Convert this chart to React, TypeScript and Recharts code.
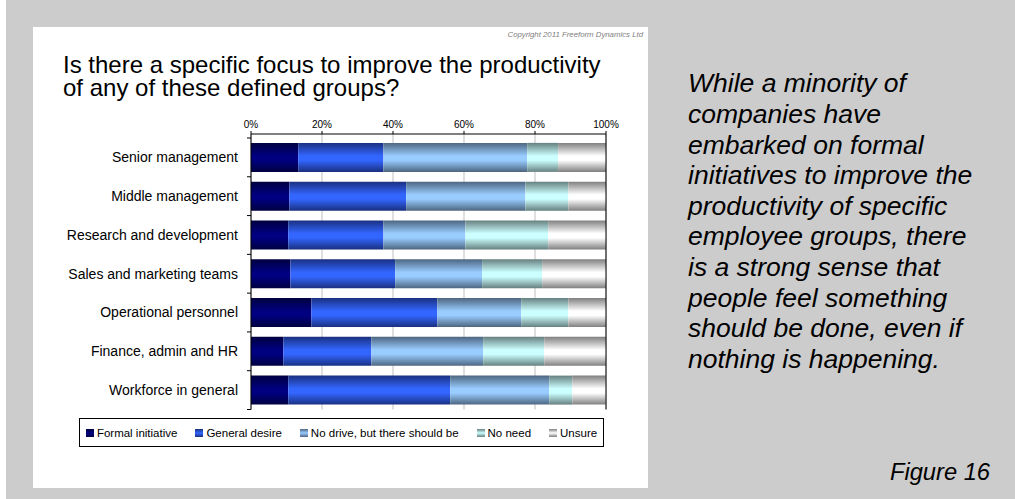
import React from 'react';
import { BarChart, Bar, XAxis, YAxis, CartesianGrid, ReferenceLine, Legend } from 'recharts';

const groups = [
    'Senior management',
    'Middle management',
    'Research and development',
    'Sales and marketing teams',
    'Operational personnel',
    'Finance, admin and HR',
    'Workforce in general',
];

const formalInitiative = [13.3, 10.8, 10.5, 11.1, 17.0, 9.1, 10.5];
const generalDesire = [24.0, 32.9, 26.8, 29.5, 35.5, 24.8, 45.6];
const noDrive = [40.5, 33.6, 23.1, 24.5, 23.6, 31.5, 27.9];
const noNeed = [8.7, 12.1, 23.3, 16.9, 13.3, 17.2, 6.5];
const unsure = [13.5, 10.6, 16.3, 18.0, 10.6, 17.4, 9.4];

const xTicks = [0, 20, 40, 60, 80, 100];

const titleLines = [
    'Is there a specific focus to improve the productivity',
    'of any of these defined groups?',
];

const paragraph = [
    'While a minority of',
    'companies have',
    'embarked on formal',
    'initiatives to improve the',
    'productivity of specific',
    'employee groups, there',
    'is a strong sense that',
    'people feel something',
    'should be done, even if',
    'nothing is happening.',
];

// edge colour / centre colour for the Excel-style banded fills
const SERIES = [
    { key: 'formal', name: 'Formal initiative', edge: '#000040', mid: '#000080' },
    { key: 'general', name: 'General desire', edge: '#1a3080', mid: '#3366ff' },
    { key: 'noDrive', name: 'No drive, but there should be', edge: '#4d6680', mid: '#99ccff' },
    { key: 'noNeed', name: 'No need', edge: '#668080', mid: '#ccffff' },
    { key: 'unsure', name: 'Unsure', edge: '#808080', mid: '#ffffff' },
];

const data = groups.map((g, i) => ({
    group: g,
    formal: formalInitiative[i],
    general: generalDesire[i],
    noDrive: noDrive[i],
    noNeed: noNeed[i],
    unsure: unsure[i],
}));

const FONT = "'Liberation Sans', Arial, sans-serif";

function YTick(props: any) {
    const { x, y, payload, index } = props;
    const half = payload && payload.offset ? payload.offset : 19.4;
    const axisX = x + 13;
    return (
        <g>
            <line x1={axisX - 4} x2={axisX} y1={y - half} y2={y - half} stroke="#000" />
            {index === groups.length - 1 && (
                <line x1={axisX - 4} x2={axisX} y1={y + half} y2={y + half} stroke="#000" />
            )}
            <text x={x} y={y} dy="0.35em" textAnchor="end" fontSize={14} fill="#000">
                {payload.value}
            </text>
        </g>
    );
}

function LegendBox() {
    return (
        <div
            style={{
                boxSizing: 'border-box',
                height: 29,
                width: 525,
                border: '1px solid #000',
                display: 'flex',
                alignItems: 'center',
                justifyContent: 'center',
                fontSize: 11.5,
                color: '#000',
                background: '#fff',
            }}
        >
            {SERIES.map((s, i) => (
                <div key={s.key} style={{ display: 'flex', alignItems: 'center', marginLeft: i === 0 ? 0 : 18 }}>
                    <span
                        style={{
                            display: 'inline-block',
                            width: 8,
                            height: 8,
                            marginRight: 3,
                            background: `linear-gradient(${s.edge}, ${s.mid}, ${s.edge})`,
                        }}
                    />
                    <span>{s.name}</span>
                </div>
            ))}
        </div>
    );
}

export default function App() {
    return (
        <div style={{ position: 'absolute', left: 0, top: 0, width: 1015, height: 499, background: '#fff', fontFamily: FONT }}>
            <div style={{ position: 'absolute', left: 6, top: 0, width: 1009, height: 499, background: '#cccccc' }} />
            <div style={{ position: 'absolute', left: 33, top: 27, width: 615, height: 461, background: '#fff' }} />

            <div
                style={{
                    position: 'absolute',
                    right: 1015 - 643,
                    top: 30,
                    fontSize: 7.8,
                    fontStyle: 'italic',
                    color: '#808080',
                    whiteSpace: 'nowrap',
                    lineHeight: '10px',
                }}
            >
                Copyright 2011 Freeform Dynamics Ltd
            </div>

            {titleLines.map((line, i) => (
                <div
                    key={line}
                    style={{
                        position: 'absolute',
                        left: 63,
                        top: 54.2 + i * 22.5,
                        fontSize: 24,
                        lineHeight: '22.5px',
                        color: '#000',
                        whiteSpace: 'nowrap',
                    }}
                >
                    {line}
                </div>
            ))}

            <div style={{ position: 'absolute', left: 33, top: 27 }}>
                <BarChart
                    width={615}
                    height={461}
                    data={data}
                    layout="vertical"
                    barCategoryGap="12.6%"
                    margin={{ top: 87, right: 42, bottom: 49.5, left: 0 }}
                >
                    <defs>
                        {SERIES.map((s) => (
                            <linearGradient key={s.key} id={`g-${s.key}`} x1="0" y1="0" x2="0" y2="1">
                                <stop offset="0%" stopColor={s.edge} />
                                <stop offset="45%" stopColor={s.mid} />
                                <stop offset="60%" stopColor={s.mid} />
                                <stop offset="100%" stopColor={s.edge} />
                            </linearGradient>
                        ))}
                    </defs>
                    <CartesianGrid horizontal={false} stroke="#bfbfbf" />
                    <XAxis
                        type="number"
                        orientation="top"
                        domain={[0, 100]}
                        ticks={xTicks}
                        tickFormatter={(v) => `${v}%`}
                        height={20}
                        tick={{ fontSize: 10, fill: '#000' }}
                        tickSize={3}
                        tickMargin={3}
                        axisLine={{ stroke: '#000' }}
                        tickLine={{ stroke: '#000' }}
                        interval={0}
                    />
                    <XAxis
                        xAxisId="b"
                        type="number"
                        orientation="bottom"
                        domain={[0, 100]}
                        height={0}
                        tick={false}
                        tickLine={false}
                        axisLine={{ stroke: '#777' }}
                    />
                    <YAxis
                        type="category"
                        dataKey="group"
                        width={218}
                        padding={{ top: 4, bottom: 0 }}
                        axisLine={{ stroke: '#000' }}
                        tickLine={false}
                        tickSize={0}
                        tickMargin={13}
                        tick={<YTick />}
                        interval={0}
                    />
                    <ReferenceLine x={100} stroke="#000" />
                    {SERIES.map((s) => (
                        <Bar key={s.key} dataKey={s.key} name={s.name} stackId="a" fill={`url(#g-${s.key})`} isAnimationActive={false} />
                    ))}
                    <Legend content={() => <LegendBox />} verticalAlign="bottom" wrapperStyle={{ left: 46, width: 525, bottom: 41 }} />
                </BarChart>
            </div>

            <div
                style={{
                    position: 'absolute',
                    left: 688,
                    top: 68.4,
                    fontSize: 26.5,
                    lineHeight: '30.6px',
                    fontStyle: 'italic',
                    color: '#000',
                    whiteSpace: 'nowrap',
                }}
            >
                {paragraph.map((line) => (
                    <div key={line}>{line}</div>
                ))}
            </div>

            <div
                style={{
                    position: 'absolute',
                    right: 1015 - 990,
                    top: 458,
                    fontSize: 23.7,
                    lineHeight: '28px',
                    fontStyle: 'italic',
                    color: '#000',
                    whiteSpace: 'nowrap',
                }}
            >
                Figure 16
            </div>
        </div>
    );
}
